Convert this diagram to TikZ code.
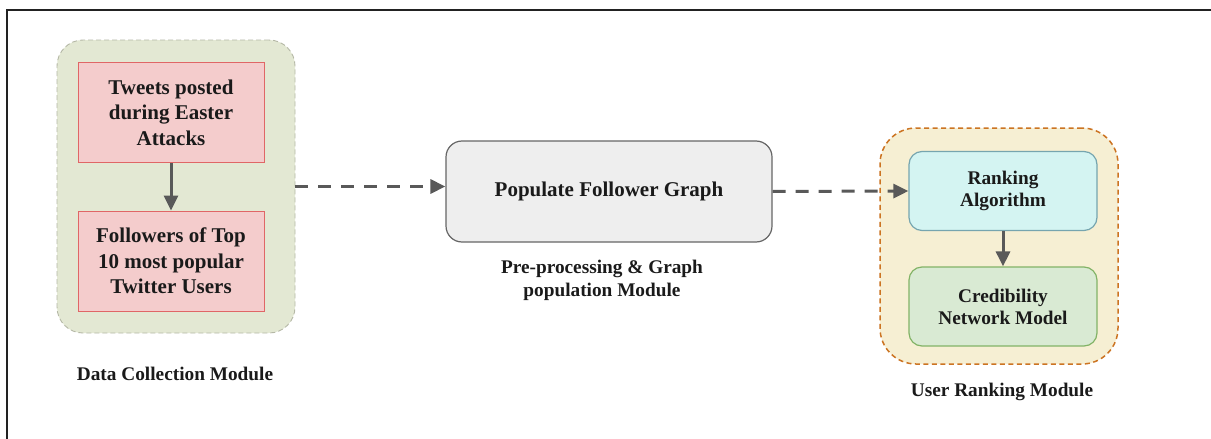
\documentclass[tikz,border=0pt]{standalone}
\usepackage{fontspec}
\setmainfont{Liberation Serif}
\usetikzlibrary{arrows.meta}

\definecolor{txt}{HTML}{1A1A1A}
\definecolor{frameline}{HTML}{222222}
\definecolor{arrowgrey}{HTML}{595959}
\definecolor{olivefill}{HTML}{E3E8D3}
\definecolor{olivedash}{HTML}{B5B8A6}
\definecolor{pinkfill}{HTML}{F4CCCC}
\definecolor{pinkline}{HTML}{E06666}
\definecolor{greyfill}{HTML}{EEEEEE}
\definecolor{greyline}{HTML}{666666}
\definecolor{sandfill}{HTML}{F6EFD3}
\definecolor{orangedash}{HTML}{CC7422}
\definecolor{cyanfill}{HTML}{D4F4F2}
\definecolor{cyanline}{HTML}{76A5AF}
\definecolor{mintfill}{HTML}{D9EAD3}
\definecolor{mintline}{HTML}{82B366}

\tikzset{
  container/.style={minimum width=238pt, inner sep=0pt, line width=0.9pt, dash pattern=on 5pt off 3pt},
  pinkbox/.style={draw=pinkline, fill=pinkfill, line width=1pt, minimum width=186pt, minimum height=100pt,
    align=center, text=txt, font=\fontsize{21}{25.5}\selectfont\bfseries},
  greybox/.style={draw=greyline, fill=greyfill, line width=1.2pt, rounded corners=16pt,
    minimum width=326pt, minimum height=101pt, align=center, text=txt,
    font=\fontsize{21}{25}\selectfont\bfseries},
  rankbox/.style={line width=1.2pt, rounded corners=13pt, minimum width=188pt, minimum height=79pt,
    align=center, text=txt, font=\fontsize{19.3}{22}\selectfont\bfseries},
  caption/.style={align=center, text=txt, font=\fontsize{19.3}{23}\selectfont\bfseries},
  solidarrow/.style={draw=arrowgrey, line width=3pt, -{Triangle[length=15pt,width=14pt]}},
  dasharrow/.style={draw=arrowgrey, line width=3pt, dash pattern=on 13pt off 10pt,
    -{Triangle[length=15pt,width=14pt]}},
}

\begin{document}
\begin{tikzpicture}[x=1pt,y=-1pt]
  \useasboundingbox (0,0) rectangle (1211,439);
  \fill[white] (0,0) rectangle (1211,439);

  % outer frame
  \draw[frameline, line width=2pt] (7,439) -- (7,10) -- (1211,10);

  % data collection module
  \node[container, draw=olivedash, fill=olivefill, rounded corners=26pt, minimum height=293pt]
    (dcm) at (176,186.5) {};
  \node[pinkbox] (tweets) at (171,112.5) {Tweets posted\\during Easter\\Attacks};
  \node[pinkbox] (followers) at (171,261) {Followers of Top\\10 most popular\\Twitter Users};
  \draw[solidarrow] (tweets) -- (followers);
  \node[caption] (dcmlabel) at (175,374) {Data Collection Module};

  % pre-processing module
  \node[greybox] (populate) at (609,191.5) {\raisebox{-2pt}{Populate Follower Graph}};
  \node[caption] (poplabel) at (602,280.5) {Pre-processing \& Graph\\population Module};

  % user ranking module
  \node[container, draw=orangedash, fill=sandfill, rounded corners=36pt, minimum height=236pt,
    line width=1.5pt, dash pattern=on 5pt off 3.5pt]
    (urm) at (999,246) {};
  \node[rankbox, draw=cyanline, fill=cyanfill] (ranking) at (1003,191) {Ranking\\Algorithm};
  \node[rankbox, draw=mintline, fill=mintfill] (cred) at (1003,306.5) {Credibility\\Network Model};
  \draw[solidarrow] (ranking) -- (cred);
  \node[caption] (urmlabel) at (1002,392) {User Ranking Module};

  % flow between modules
  \draw[dasharrow] (dcm.east) -- (dcm.east -| populate.west);
  \draw[dasharrow] (populate.east) -- (ranking.west);
\end{tikzpicture}
\end{document}
